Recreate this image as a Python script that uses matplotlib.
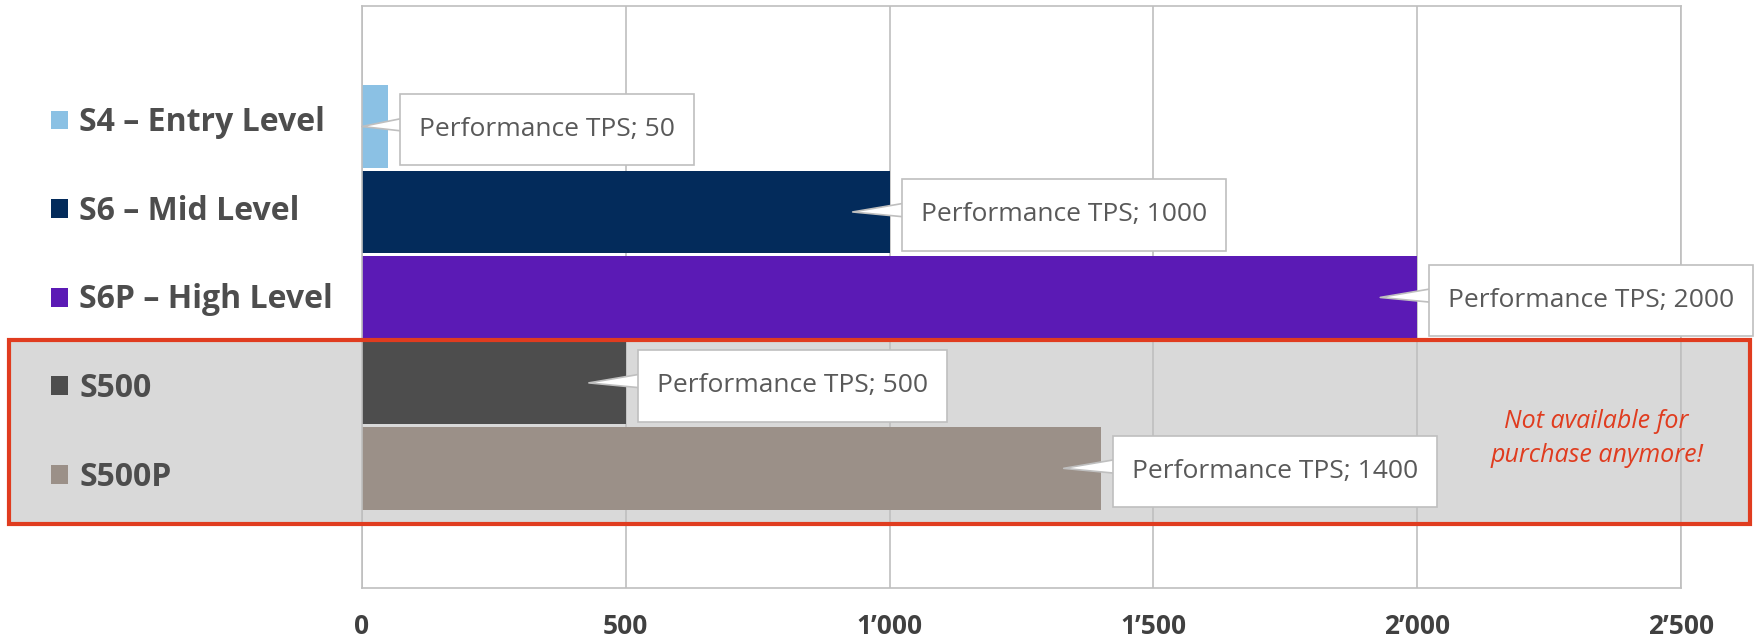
import matplotlib.pyplot as plt
import matplotlib.transforms as mtransforms
from matplotlib.patches import Rectangle
from matplotlib.path import Path

plt.rcParams['font.family'] = ['Open Sans', 'DejaVu Sans']

# Data: transaction performance per appliance
models = ['S4 – Entry Level', 'S6 – Mid Level', 'S6P – High Level', 'S500', 'S500P']
tps = [50, 1000, 2000, 500, 1400]
colors = ['#8bc1e4', '#032b5b', '#5b1ab5', '#4d4d4d', '#9b9088']
ticks = [0, 500, 1000, 1500, 2000, 2500]
note = 'Not available for\npurchase anymore!'

W, H = 1757, 640
fig = plt.figure(figsize=(W / 100, H / 100), dpi=100)
ax = fig.add_axes([362 / W, 1 - 588 / H, (1681 - 362) / W, (588 - 6) / H])
ax.patch.set_alpha(0)

# bars
ypos = list(range(len(models)))
bars = ax.barh(ypos, tps, height=0.965, color=colors, zorder=2)
for b, lab in zip(bars, models):
    b.set_label(lab)

ax.set_xlim(0, 2500)
ax.set_ylim(5.4, -1.41)
ax.set_yticks([])
ax.set_xticks(ticks)
ax.set_xticklabels([f'{t:,}'.replace(',', '’') for t in ticks],
                   fontsize=19, fontweight='bold', color='#404040')
ax.tick_params(axis='x', length=0, pad=18)
ax.grid(axis='x', color='#bfbfbf', linewidth=1.2)
ax.set_axisbelow(True)
for s in ax.spines.values():
    s.set_color('#bfbfbf')
    s.set_linewidth(1.2)


# label box with more vertical than horizontal padding
def callout_box(x0, y0, width, height, mutation_size):
    px, py = 0.72 * mutation_size, 0.88 * mutation_size
    return Path([(x0 - px, y0 - py), (x0 + width + px, y0 - py),
                 (x0 + width + px, y0 + height + py), (x0 - px, y0 + height + py),
                 (x0 - px, y0 - py)], closed=True)


# data callouts
for i, v in enumerate(tps):
    tip = max(v - 70, 0)
    off = mtransforms.offset_copy(ax.transData, fig=fig, x=31, y=-3, units='dots')
    ax.annotate(f'Performance TPS; {v}', xy=(tip, i), xycoords='data',
                xytext=(v, i), textcoords=off, ha='left', va='center',
                fontsize=19, color='#595959', zorder=5,
                bbox=dict(boxstyle=callout_box, fc='white', ec='#bfbfbf', lw=1.2),
                arrowprops=dict(arrowstyle='wedge,tail_width=0.68,shrink_factor=0.5',
                                fc='white', ec='#bfbfbf', lw=1.2,
                                relpos=(0.0, 0.72), patchA=None,
                                shrinkA=0, shrinkB=0))

# legend on the left
ax.legend(loc='center left', bbox_to_anchor=(51 / W, 1 - 300 / H),
          bbox_transform=fig.transFigure, frameon=False,
          handlelength=0.53, handleheight=0.53, handletextpad=0.36,
          labelspacing=1.74, borderpad=0, borderaxespad=0,
          prop=dict(family='Open Sans', weight='bold', size=23),
          labelcolor='#4d4d4d')

# highlight of discontinued models
blend = mtransforms.blended_transform_factory(fig.transFigure, ax.transData)
y0, y1 = 2.5, 4.65
fig.add_artist(Rectangle((9 / W, y0), (1750 - 9) / W, y1 - y0, transform=blend,
                         facecolor='#d9d9d9', edgecolor='none', zorder=-1))
fig.add_artist(Rectangle((9 / W, y0), (1750 - 9) / W, y1 - y0, transform=blend,
                         facecolor='none', edgecolor='#e03c1f', linewidth=3, zorder=10))
ax.text(2340, 3.65, note, ha='center', va='center', color='#e03c1f',
        style='italic', fontsize=18, linespacing=1.48, zorder=6)

fig.savefig('out.png', dpi=100)
